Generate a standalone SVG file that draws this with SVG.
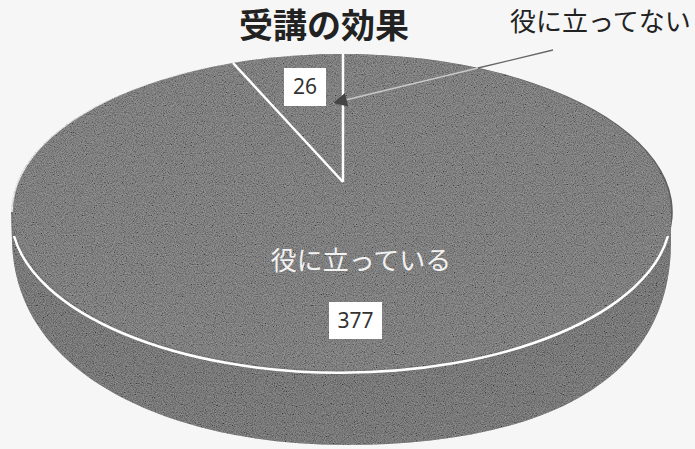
<svg xmlns="http://www.w3.org/2000/svg" width="695" height="449" viewBox="0 0 695 449">
  <style>
    .jp { font-family: "Noto Sans CJK JP", "Noto Sans", sans-serif; }
    .num { font-family: "Noto Sans", "Open Sans", sans-serif; font-size: 21px; fill: #333333; text-anchor: middle; }
    .top { fill: #5f5f5f; }
    .side { fill: #555555; }
    .rim { fill: none; stroke: #ffffff; stroke-width: 2.5; }
    .lbox { fill: #ffffff; }
  </style>
  <defs>
    <clipPath id="pieClip">
      <path d="M11,212 L12,240 C14,380 180,445 345,445 C510,445 672,400 671,240 L671,212 A330,158 0 0 0 11,212 Z"/>
    </clipPath>
    <filter id="grain" x="0" y="0" width="100%" height="100%">
      <feTurbulence type="fractalNoise" baseFrequency="0.9" numOctaves="2" seed="7" result="n"/>
      <feColorMatrix in="n" type="matrix" values="1.6 0 0 0 -0.3  1.6 0 0 0 -0.3  1.6 0 0 0 -0.3  0 0 0 0 0.35"/>
    </filter>
    <marker id="arrow" viewBox="0 0 10 10" refX="10" refY="5" markerWidth="14" markerHeight="14" markerUnits="userSpaceOnUse" orient="auto">
      <path d="M0,0 L10,5 L0,10 Z" fill="#444444"/>
    </marker>
  </defs>

  <rect width="695" height="449" fill="#f6f6f6"/>

  <g id="title">
    <text class="jp" x="324" y="38" font-size="34" font-weight="700" fill="#222222" text-anchor="middle">受講の効果</text>
  </g>

  <g id="slice-useful">
    <path class="side" d="M11,212 L12,240 C14,380 180,445 345,445 C510,445 672,400 671,240 L671,212 Z"/>
    <path class="top" d="M343,182 L343,54 A330,158 0 1 1 233,63 Z"/>
  </g>

  <g id="slice-not-useful">
    <path class="top" d="M343,182 L233,63 A330,158 0 0 1 343,54 Z"/>
  </g>

  <rect x="0" y="40" width="695" height="409" fill="#000" filter="url(#grain)" clip-path="url(#pieClip)"/>

  <g id="borders">
    <path class="rim" d="M14,236 A330,158 0 0 0 668,236"/>
    <line x1="343" y1="182" x2="343" y2="54" stroke="#ffffff" stroke-width="2.5"/>
    <line x1="343" y1="182" x2="233" y2="63" stroke="#ffffff" stroke-width="2.5"/>
  </g>

  <g id="labels-useful">
    <text class="jp" x="361" y="270" font-size="26" fill="#f2f2f2" text-anchor="middle">役に立っている</text>
    <rect class="lbox" x="329" y="302" width="53" height="37"/>
    <text class="num" x="355.5" y="328">377</text>
  </g>

  <g id="labels-not-useful">
    <rect class="lbox" x="284" y="68" width="42" height="38"/>
    <text class="num" x="305" y="94">26</text>
    <text class="jp" x="510" y="31" font-size="26" fill="#222222">役に立ってない</text>
  </g>

  <g id="connectors">
    <line x1="553" y1="50" x2="478" y2="68" stroke="#666666" stroke-width="1.3"/>
    <line x1="478" y1="68" x2="333" y2="103" stroke="#c8c8c8" stroke-width="1.3" marker-end="url(#arrow)"/>
  </g>
</svg>
